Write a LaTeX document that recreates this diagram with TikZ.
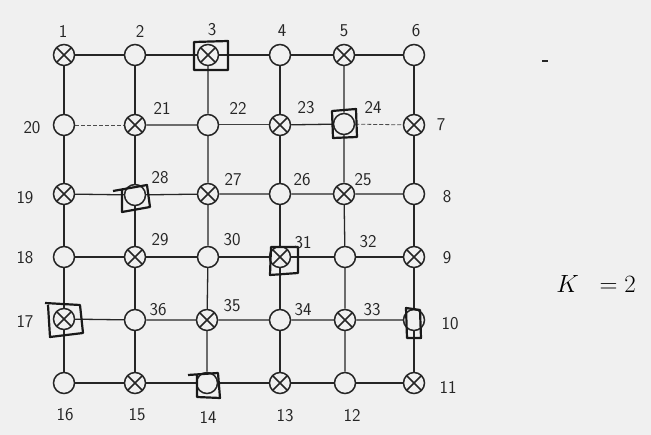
\documentclass[tikz,border=0pt]{standalone}
\begin{document}
\begin{tikzpicture}[x=1pt,y=-1pt,
  ink/.style={draw=black!85},
  vtx/.style={circle,ink,line width=1.5pt,minimum size=21pt,inner sep=0pt},
  xvtx/.style={vtx,path picture={\draw[black!85,line width=1.5pt]
      (path picture bounding box.north west)--(path picture bounding box.south east)
      (path picture bounding box.north east)--(path picture bounding box.south west);}},
  lbl/.style={font=\sffamily\fontsize{18}{18}\selectfont,text=black!85,inner sep=0pt},
  edge/.style={black!85,line width=1.3pt},
  weak/.style={black!70,line width=0.8pt,dash pattern=on 4pt off 2pt},
  markbox/.style={black!90,line width=2.2pt,line join=round}
]
\useasboundingbox (0,0) rectangle (651,435);
\fill[black!6] (0,0) rectangle (651,435);

% outer ring
\node[xvtx] (n1) at (64,55) {};
\node[vtx]  (n2) at (135,55) {};
\node[xvtx] (n3) at (208,55) {};
\node[vtx]  (n4) at (280,55) {};
\node[xvtx] (n5) at (344,55) {};
\node[vtx]  (n6) at (414,55) {};
\node[xvtx] (n7) at (414,125) {};
\node[vtx]  (n8) at (414,194) {};
\node[xvtx] (n9) at (414,257) {};
\node[vtx]  (n10) at (414,320) {};
\node[xvtx] (n11) at (414,383) {};
\node[vtx]  (n12) at (345,383) {};
\node[xvtx] (n13) at (280,383) {};
\node[vtx]  (n14) at (207,383) {};
\node[xvtx] (n15) at (135,383) {};
\node[vtx]  (n16) at (64,383) {};
\node[xvtx] (n17) at (64,319) {};
\node[vtx]  (n18) at (64,257) {};
\node[xvtx] (n19) at (64,194) {};
\node[vtx]  (n20) at (64,125) {};
% inner
\node[xvtx] (n21) at (135,125) {};
\node[vtx]  (n22) at (208,125) {};
\node[xvtx] (n23) at (280,125) {};
\node[vtx]  (n24) at (344,124) {};
\node[xvtx] (n25) at (344,194) {};
\node[vtx]  (n26) at (280,194) {};
\node[xvtx] (n27) at (208,194) {};
\node[vtx]  (n28) at (135,195) {};
\node[xvtx] (n29) at (135,257) {};
\node[vtx]  (n30) at (208,257) {};
\node[xvtx] (n31) at (280,257) {};
\node[vtx]  (n32) at (345,257) {};
\node[xvtx] (n33) at (345,320) {};
\node[vtx]  (n34) at (280,320) {};
\node[xvtx] (n35) at (207,320) {};
\node[vtx]  (n36) at (135,320) {};

% horizontal edges
\draw[edge] (n1)--(n2) (n2)--(n3) (n3)--(n4) (n4)--(n5) (n5)--(n6);
\draw[weak] (n20)--(n21);
\draw[edge] (n21)--(n22) (n23)--(n24);
\draw[edge,black!75,line width=1pt] (n22)--(n23);
\draw[weak] (n24)--(n7);
\draw[edge] (n19)--(n28) (n28)--(n27) (n27)--(n26) (n26)--(n25) (n25)--(n8);
\draw[edge] (n18)--(n29) (n29)--(n30) (n30)--(n31) (n31)--(n32) (n32)--(n9);
\draw[edge] (n17)--(n36) (n36)--(n35) (n35)--(n34) (n34)--(n33) (n33)--(n10);
\draw[edge] (n16)--(n15) (n15)--(n14) (n14)--(n13) (n13)--(n12) (n12)--(n11);
% vertical edges
\draw[edge] (n1)--(n20) (n20)--(n19) (n19)--(n18) (n18)--(n17) (n17)--(n16);
\draw[edge] (n2)--(n21) (n21)--(n28) (n28)--(n29) (n29)--(n36) (n36)--(n15);
\draw[edge] (n3)--(n22) (n22)--(n27) (n27)--(n30) (n30)--(n35) (n35)--(n14);
\draw[edge] (n4)--(n23) (n23)--(n26) (n26)--(n31) (n31)--(n34) (n34)--(n13);
\draw[edge] (n5)--(n24) (n24)--(n25) (n25)--(n32) (n32)--(n33) (n33)--(n12);
\draw[edge] (n6)--(n7) (n7)--(n8) (n8)--(n9) (n9)--(n10) (n10)--(n11);

% boxes round chosen vertices
\draw[markbox] (194,42)--(228,41)--(228,70)--(194,70)--cycle;
\draw[markbox] (332,111)--(356,109)--(357,137)--(333,138)--cycle;
\draw[markbox] (113,191)--(147,185)--(150,207)--(122,212)--(122,190);
\draw[markbox] (271,247)--(298,247)--(298,273)--(270,275)--cycle;
\draw[markbox] (45,303)--(80,305)--(83,333)--(50,337)--(48,305);
\draw[markbox] (188,375)--(218,373)--(220,398)--(197,397)--(197,375);
\draw[markbox] (406,308)--(420,310)--(421,338)--(407,338)--cycle;

% labels
\node[lbl] (l1) at (63,31) {1};
\node[lbl] (l2) at (140,31) {2};
\node[lbl] (l3) at (212,30) {3};
\node[lbl] (l4) at (282,31) {4};
\node[lbl] (l5) at (344,31) {5};
\node[lbl] (l6) at (416,31) {6};
\node[lbl] (l7) at (441,125) {7};
\node[lbl] (l8) at (447,197) {8};
\node[lbl] (l9) at (447,258) {9};
\node[lbl] (l10) at (450,324) {10};
\node[lbl] (l11) at (448,387) {11};
\node[lbl] (l12) at (352,415) {12};
\node[lbl] (l13) at (285,416) {13};
\node[lbl] (l14) at (208,417) {14};
\node[lbl] (l15) at (137,415) {15};
\node[lbl] (l16) at (65,415) {16};
\node[lbl] (l17) at (25,322) {17};
\node[lbl] (l18) at (25,258) {18};
\node[lbl] (l19) at (25,198) {19};
\node[lbl] (l20) at (32,128) {20};
\node[lbl] (l21) at (162,108) {21};
\node[lbl] (l22) at (238,108) {22};
\node[lbl] (l23) at (306,108) {23};
\node[lbl] (l24) at (373,107) {24};
\node[lbl] (l25) at (363,180) {25};
\node[lbl] (l26) at (302,180) {26};
\node[lbl] (l27) at (233,180) {27};
\node[lbl] (l28) at (160,178) {28};
\node[lbl] (l29) at (160,240) {29};
\node[lbl] (l30) at (232,240) {30};
\node[lbl] (l31) at (303,243) {31};
\node[lbl] (l32) at (368,242) {32};
\node[lbl] (l33) at (372,310) {33};
\node[lbl] (l34) at (303,310) {34};
\node[lbl] (l35) at (232,306) {35};
\node[lbl] (l36) at (158,310) {36};

\draw[black!85,line width=2.4pt] (542,61)--(548,61);
\node[font=\fontsize{27}{30}\selectfont,inner sep=0pt] (k) at (596,284) {$K\;\;=2$};
\end{tikzpicture}
\end{document}
